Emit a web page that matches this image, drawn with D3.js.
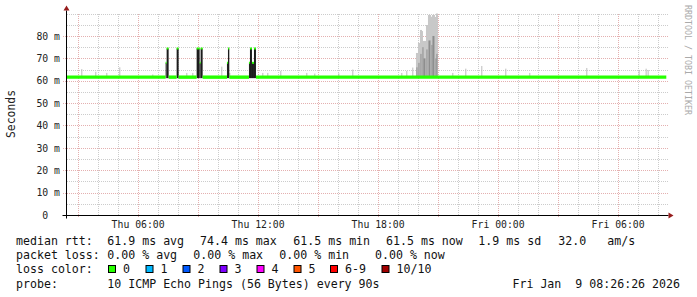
<!DOCTYPE html>
<html>
<head>
<meta charset="utf-8">
<script src="https://cdn.jsdelivr.net/npm/d3@7"></script>
<style>
  body { margin: 0; background: #fff; }
  svg { display: block; font-family: "DejaVu Sans Mono", monospace; }
  text { white-space: pre; }
</style>
</head>
<body>
<svg id="chart" width="697" height="297"></svg>
<script>
// time window of the graph
const timeStart = "2026-01-08 02:26";
const timeEnd = "2026-01-09 08:26";

// y axis ticks (ms)
const yTicks = [0, 10, 20, 30, 40, 50, 60, 70, 80];
const yTickLabels = ["0  ", "10 m", "20 m", "30 m", "40 m", "50 m", "60 m", "70 m", "80 m"];

// median rtt (ms) as steps: [from time, value]
const medianSteps = [
  ["2026-01-08 02:26", 61.6],
  ["2026-01-08 07:24", 68],
  ["2026-01-08 07:27", 74.4],
  ["2026-01-08 07:33", 61.6],
  ["2026-01-08 07:57", 74.4],
  ["2026-01-08 08:03", 61.6],
  ["2026-01-08 08:57", 74.4],
  ["2026-01-08 09:06", 68],
  ["2026-01-08 09:09", 74.4],
  ["2026-01-08 09:15", 61.6],
  ["2026-01-08 10:28", 68],
  ["2026-01-08 10:31", 74.4],
  ["2026-01-08 10:35", 61.6],
  ["2026-01-08 11:34", 68],
  ["2026-01-08 11:37", 74.4],
  ["2026-01-08 11:43", 68],
  ["2026-01-08 11:49", 74.4],
  ["2026-01-08 11:55", 61.6],
  ["2026-01-09 08:26", 61.6]
];

// single light smoke columns: [time, max ms]
const smokeSpikes = [
  ["2026-01-08 03:11", 65.2],
  ["2026-01-08 03:53", 64.0],
  ["2026-01-08 04:26", 63.5],
  ["2026-01-08 05:05", 66.0],
  ["2026-01-08 06:44", 62.8],
  ["2026-01-08 08:26", 63.5],
  ["2026-01-08 08:44", 63.5],
  ["2026-01-08 10:11", 66.3],
  ["2026-01-08 10:35", 63.5],
  ["2026-01-08 12:14", 63.5],
  ["2026-01-08 12:29", 63.5],
  ["2026-01-08 13:08", 64.4],
  ["2026-01-08 14:26", 63.5],
  ["2026-01-08 14:50", 63.2],
  ["2026-01-08 16:02", 63.3],
  ["2026-01-08 16:44", 65.0],
  ["2026-01-08 19:11", 63.5],
  ["2026-01-08 19:26", 64.4],
  ["2026-01-08 19:44", 65.9],
  ["2026-01-08 21:44", 63.5],
  ["2026-01-08 22:23", 65.4],
  ["2026-01-08 23:11", 66.6],
  ["2026-01-09 00:23", 65.4],
  ["2026-01-09 01:35", 63.5],
  ["2026-01-09 04:26", 65.7],
  ["2026-01-09 07:03", 64.8],
  ["2026-01-09 07:24", 65.4],
  ["2026-01-09 07:30", 64.8]
];

// dense smoke burst: [from, to, max ms, inner ms]
const smokeBurst = [
  ["2026-01-08 19:55", "2026-01-08 20:01", 72.4, 66],
  ["2026-01-08 20:01", "2026-01-08 20:07", 76.9, 68],
  ["2026-01-08 20:07", "2026-01-08 20:13", 82.7, 72],
  ["2026-01-08 20:13", "2026-01-08 20:16", 82.2, 75],
  ["2026-01-08 20:16", "2026-01-08 20:25", 77.8, 70],
  ["2026-01-08 20:25", "2026-01-08 20:31", 84.9, 74],
  ["2026-01-08 20:31", "2026-01-08 20:40", 89.4, 78],
  ["2026-01-08 20:40", "2026-01-08 20:43", 88.6, 76],
  ["2026-01-08 20:43", "2026-01-08 20:52", 89.4, 80],
  ["2026-01-08 20:52", "2026-01-08 20:55", 88.5, 70],
  ["2026-01-08 20:55", "2026-01-08 21:01", 92.0, 72]
];

// legend rows
const rttLegend = [
  [16, "median rtt:"], [107.3, "61.9 ms avg"], [200, "74.4 ms max"], [293.3, "61.5 ms min"],
  [386, "61.5 ms now"], [478.3, "1.9 ms sd"], [558.3, "32.0"], [607.3, "am/s"]
];
const lossLegend = [
  [16, "packet loss:"], [107.3, "0.00 % avg"], [193.3, "0.00 % max"], [279.3, "0.00 % min"], [375, "0.00 % now"]
];
const lossLabels = ["0", "1", "2", "3", "4", "5", "6-9", "10/10"];
const lossColors = ["#26ff00", "#00b8ff", "#0059ff", "#7e00ff", "#ff00ff", "#ff5500", "#ff0000", "#a10000"];
const lossBoxX = [108, 145.5, 182.5, 219.5, 256.5, 293.5, 330, 381.5];
const probeText = "10 ICMP Echo Pings (56 Bytes) every 90s";
const dateText = "Fri Jan  9 08:26:26 2026";

const parse = d3.timeParse("%Y-%m-%d %H:%M");
const svg = d3.select("#chart");

const x = d3.scaleTime().domain([parse(timeStart), parse(timeEnd)]).range([66.3, 666.3]);
const y = d3.scaleLinear().domain([0, 90]).range([215, 13.6]);

const plotLeft = 66.5, plotRight = 666.5, plotBottom = 215.5, plotTop = 13.5;

// horizontal grid (dots on whole pixels)
d3.range(5, 91, 5).forEach((v) => {
  const major = v % 10 === 0 && v <= 80;
  const yy = Math.round(y(v)) + 0.5;
  svg.append("line")
    .attr("x1", major ? 63 : 67).attr("x2", 669)
    .attr("y1", yy).attr("y2", yy)
    .attr("stroke", major ? "#e4b0b0" : "#cccccc")
    .attr("stroke-width", 1)
    .attr("stroke-dasharray", "1,1");
});

// vertical grid
d3.timeHour.range(parse(timeStart), parse(timeEnd)).forEach((t) => {
  const major = t.getHours() % 3 === 0;
  const xx = Math.round(x(t)) + 0.5;
  svg.append("line")
    .attr("x1", xx).attr("x2", xx)
    .attr("y1", 14).attr("y2", major ? 218 : 215)
    .attr("stroke", major ? "#e4b0b0" : "#cccccc")
    .attr("stroke-width", 1)
    .attr("stroke-dasharray", "1,1");
});

const base = medianSteps[0][1];
const colW = x(parse("2026-01-08 12:03")) - x(parse("2026-01-08 12:00"));

// light smoke
svg.append("g").selectAll("rect")
  .data(smokeSpikes)
  .join("rect")
  .attr("x", (d) => x(parse(d[0])))
  .attr("width", colW)
  .attr("y", (d) => y(d[1]))
  .attr("height", (d) => y(base) - y(d[1]))
  .attr("fill", "#bdbdbd");

// burst smoke
const burst = svg.append("g");
burst.selectAll("rect.outer")
  .data(smokeBurst)
  .join("rect")
  .attr("class", "outer")
  .attr("x", (d) => x(parse(d[0])))
  .attr("width", (d) => x(parse(d[1])) - x(parse(d[0])))
  .attr("y", (d) => Math.max(plotTop, y(d[2])))
  .attr("height", (d) => y(base) - Math.max(plotTop, y(d[2])))
  .attr("fill", "#c8c8c8");
burst.selectAll("rect.inner")
  .data(smokeBurst)
  .join("rect")
  .attr("class", "inner")
  .attr("x", (d) => x(parse(d[0])) + 0.5)
  .attr("width", (d) => Math.max(1, x(parse(d[1])) - x(parse(d[0])) - 1))
  .attr("y", (d) => y(d[3]))
  .attr("height", (d) => y(base) - y(d[3]))
  .attr("fill", "#8e8e8e");

// dark smoke under the median jumps + green median caps
const segs = medianSteps.slice(0, -1).map((d, i) => ({
  t0: parse(d[0]), t1: parse(medianSteps[i + 1][0]), v: d[1]
}));

svg.append("g").selectAll("rect")
  .data(segs.filter((s) => s.v > base + 1))
  .join("rect")
  .attr("x", (s) => x(s.t0))
  .attr("width", (s) => x(s.t1) - x(s.t0))
  .attr("y", (s) => y(s.v))
  .attr("height", (s) => y(base) - y(s.v) + 1)
  .attr("fill", "#1c1c1c");

svg.append("g").selectAll("line")
  .data(segs)
  .join("line")
  .attr("x1", (s) => x(s.t0))
  .attr("x2", (s) => x(s.t1))
  .attr("y1", (s) => y(s.v))
  .attr("y2", (s) => y(s.v))
  .attr("stroke", lossColors[0])
  .attr("stroke-width", (s) => (s.v > base + 1 ? 2 : 3.4));

// axes lines
svg.append("line").attr("x1", plotLeft - 4).attr("x2", plotRight + 2)
  .attr("y1", plotBottom).attr("y2", plotBottom).attr("stroke", "#000");
svg.append("line").attr("x1", plotLeft).attr("x2", plotLeft)
  .attr("y1", plotBottom + 3).attr("y2", plotTop - 3).attr("stroke", "#000");
svg.append("path").attr("d", `M${plotRight + 2},${plotBottom - 3}L${plotRight + 7},${plotBottom}L${plotRight + 2},${plotBottom + 3}Z`)
  .attr("fill", "#961c1c");
svg.append("path").attr("d", `M${plotLeft - 3},${plotTop - 3}L${plotLeft},${plotTop - 8}L${plotLeft + 3},${plotTop - 3}Z`)
  .attr("fill", "#961c1c");

// axis labels
const xAxis = svg.append("g")
  .attr("transform", `translate(0,${plotBottom})`)
  .call(d3.axisBottom(x).ticks(d3.timeHour.every(6)).tickFormat(d3.timeFormat("%a %H:%M")).tickSize(0).tickPadding(6));
xAxis.select(".domain").remove();
xAxis.selectAll("text").attr("font-family", "DejaVu Sans Mono").attr("font-size", "9.8px").attr("fill", "#222");

const yAxis = svg.append("g")
  .attr("transform", `translate(60,0)`)
  .call(d3.axisLeft(y).tickValues(yTicks).tickFormat((d, i) => yTickLabels[i]).tickSize(0).tickPadding(0));
yAxis.select(".domain").remove();
yAxis.selectAll("text").attr("font-family", "DejaVu Sans Mono").attr("font-size", "9.8px").attr("fill", "#222");

svg.append("text")
  .attr("transform", "translate(15,114) rotate(-90)")
  .attr("text-anchor", "middle")
  .attr("font-size", "11.4px")
  .attr("fill", "#222")
  .text("Seconds");

svg.append("text")
  .attr("transform", "translate(685,5) rotate(90)")
  .attr("font-size", "8.3px")
  .attr("fill", "#aaa")
  .text("RRDTOOL / TOBI OETIKER");

// legend
const leg = svg.append("g").attr("font-size", "11.6px").attr("fill", "#111");
rttLegend.forEach((d) => leg.append("text").attr("x", d[0]).attr("y", 245).text(d[1]));
lossLegend.forEach((d) => leg.append("text").attr("x", d[0]).attr("y", 259.2).text(d[1]));
leg.append("text").attr("x", 16).attr("y", 273.4).text("loss color:");
lossLabels.forEach((lbl, i) => {
  leg.append("rect")
    .attr("x", lossBoxX[i] + 0.5).attr("y", 265.5).attr("width", 7).attr("height", 7)
    .attr("fill", lossColors[i]).attr("stroke", "#000").attr("stroke-width", 1);
  leg.append("text").attr("x", lossBoxX[i] + 15).attr("y", 273.4).text(lbl);
});
leg.append("text").attr("x", 16).attr("y", 287.6).text("probe:");
leg.append("text").attr("x", 107.3).attr("y", 287.6).text(probeText);
leg.append("text").attr("x", 680).attr("y", 287.6).attr("text-anchor", "end").text(dateText);
</script>
</body>
</html>
